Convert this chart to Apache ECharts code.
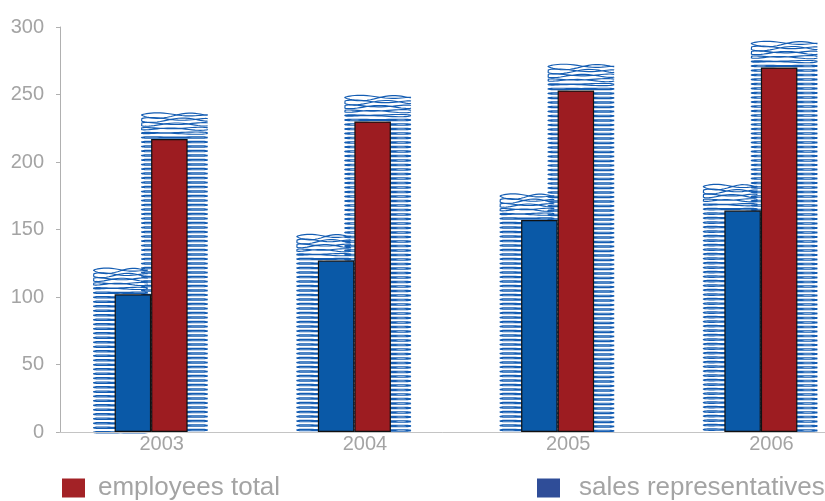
<!DOCTYPE html>
<html>
<head>
<meta charset="utf-8">
<title>Employees and sales representatives</title>
<script src="https://cdn.jsdelivr.net/npm/echarts@6/dist/echarts.min.js"></script>
<style>
  html, body { margin: 0; padding: 0; background: #ffffff; }
  #chart { width: 825px; height: 501px; }
</style>
</head>
<body>
<div id="chart"></div>
<script>
// Yearly headcount
const years = ['2003', '2004', '2005', '2006'];
const salesRepresentatives = [102, 127, 157, 164];
const employeesTotal = [217, 230, 253, 270];
const yTicks = { min: 0, max: 300, interval: 50 };

const FONT = '"Liberation Sans", Arial, Helvetica, sans-serif';
const GREY = '#a4a4a4';
const BLUE = '#0a59a7';
const RED = '#9d1c21';
const COIL = '#145db3';

// Stacked spring loops drawn behind a bar; offsets are px relative to the category centre
function coilRenderer(leftOff, rightOff) {
  return function (params, api) {
    const cat = api.value(0);
    const v = api.value(1);
    const topPt = api.coord([cat, v]);
    const basePt = api.coord([cat, 0]);
    const k = api.size([1, 0])[0] / 203.25;
    const cx = topPt[0];
    const x0 = cx + leftOff * k;
    const x1 = cx + rightOff * k;
    const xm = (x0 + x1) / 2;
    const hw = (x1 - x0) / 2;
    const yTop = topPt[1] - 24;
    const yBot = basePt[1] + 2;
    const pitch = 4.5;
    const n = Math.floor((yBot - yTop) / pitch);
    const children = [];
    for (let i = 0; i <= n; i++) {
      const yc = yTop + i * pitch;
      const amp = i < 5 ? 2.6 * (1 - i / 5) : 0;
      const phase = i * 0.7;
      const pts = [];
      const N = 56;
      for (let j = 0; j <= N; j++) {
        const th = (j / N) * Math.PI * 2;
        const c = Math.cos(th);
        const s = Math.sin(th);
        const x = xm + hw * c;
        const u = (x - x0) / (x1 - x0);
        // rounder at the ends, flatter across the middle
        const ry = 0.5 + 1.1 * c * c;
        const wave = amp * Math.sin(Math.PI * 2 * u + phase) * (s >= 0 ? 1 : -0.6);
        pts.push([x, yc + ry * s + wave]);
      }
      children.push({
        type: 'polyline',
        shape: { points: pts },
        style: { stroke: COIL, lineWidth: 1.15, fill: null }
      });
    }
    return { type: 'group', children: children };
  };
}

const chart = echarts.init(document.getElementById('chart'), null, { renderer: 'canvas' });

chart.setOption({
  animation: false,
  backgroundColor: '#ffffff',
  grid: { left: 60, top: 27, width: 813, height: 405, containLabel: false, outerBoundsMode: 'none' },
  xAxis: {
    type: 'category',
    data: years,
    boundaryGap: true,
    axisLine: { show: true, lineStyle: { color: '#c4c4c4', width: 1 } },
    axisTick: { show: false },
    axisLabel: { color: GREY, fontSize: 20, fontFamily: FONT, margin: 2 },
    splitLine: { show: false },
    z: 5
  },
  yAxis: {
    type: 'value',
    min: yTicks.min,
    max: yTicks.max,
    interval: yTicks.interval,
    axisLine: { show: true, lineStyle: { color: '#b0b0b0', width: 1 } },
    axisTick: { show: true, length: 4, inside: false, lineStyle: { color: '#b0b0b0' } },
    axisLabel: { color: GREY, fontSize: 20, fontFamily: FONT, margin: 16 },
    splitLine: { show: false }
  },
  legend: [
    {
      left: 62, top: 475, padding: 0,
      itemWidth: 23, itemHeight: 19,
      icon: 'rect',
      selectedMode: false,
      textStyle: { color: GREY, fontSize: 26, fontFamily: FONT, padding: [0, 0, 0, 8] },
      data: [{ name: 'employees total', itemStyle: { color: '#a32226', borderWidth: 0 } }]
    },
    {
      left: 537, top: 475, padding: 0,
      itemWidth: 23, itemHeight: 19,
      icon: 'rect',
      selectedMode: false,
      textStyle: { color: GREY, fontSize: 26, fontFamily: FONT, padding: [0, 0, 0, 14] },
      data: [{ name: 'sales representatives', itemStyle: { color: '#2f4d98', borderWidth: 0 } }]
    }
  ],
  series: [
    {
      name: 'sales coil',
      type: 'custom',
      silent: true,
      z: 1,
      renderItem: coilRenderer(-68, -14),
      encode: { x: 0, y: 1 },
      data: salesRepresentatives.map((v, i) => [i, v])
    },
    {
      name: 'employees coil',
      type: 'custom',
      silent: true,
      z: 1,
      renderItem: coilRenderer(-20, 46),
      encode: { x: 0, y: 1 },
      data: employeesTotal.map((v, i) => [i, v])
    },
    {
      name: 'sales representatives',
      type: 'bar',
      z: 3,
      barWidth: 36.5,
      barGap: '0%',
      itemStyle: { color: BLUE, borderColor: '#111111', borderWidth: 1.2 },
      data: salesRepresentatives
    },
    {
      name: 'employees total',
      type: 'bar',
      z: 3,
      barWidth: 36.5,
      barGap: '0%',
      itemStyle: { color: RED, borderColor: '#111111', borderWidth: 1.2 },
      data: employeesTotal
    },
    {
      // empty slot that keeps the bar pair left of the category centre
      name: 'spacer',
      type: 'bar',
      silent: true,
      barWidth: 21,
      barGap: '0%',
      itemStyle: { color: 'transparent' },
      data: years.map(() => '-')
    }
  ]
});
</script>
</body>
</html>
